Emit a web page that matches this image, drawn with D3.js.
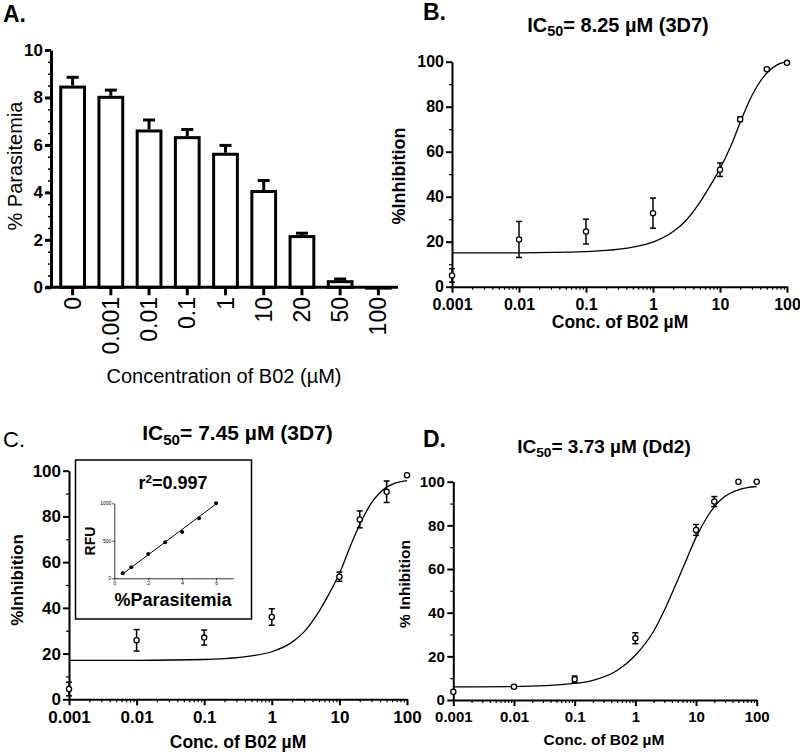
<!DOCTYPE html>
<html><head><meta charset="utf-8">
<script src="https://cdn.jsdelivr.net/npm/d3@7"></script>
<style>body{margin:0;background:#fff}svg{display:block}text{font-family:"Liberation Sans",Arial,sans-serif}</style>
</head><body><svg id="c" width="800" height="756"></svg>
<script>
// ---------- DATA ----------
// Panel A
const categoriesA = ["0","0.001","0.01","0.1","1","10","20","50","100"];
const parasitemiaA = [8.5, 8.07, 6.65, 6.37, 5.67, 4.1, 2.2, 0.3, 0.05];
const errorA = [0.35, 0.24, 0.4, 0.28, 0.31, 0.4, 0.08, 0.05, 0];
const yTicksA = [0, 2, 4, 6, 8, 10];

// Dose–response shared x ticks
const xTickValues = [0.001, 0.01, 0.1, 1, 10, 100];
const xTickLabels = ["0.001", "0.01", "0.1", "1", "10", "100"];
const yTicksInh = [0, 20, 40, 60, 80, 100];
const concentrations = [0.001, 0.01, 0.1, 1, 10, 20, 50, 100];

// Fitted-curve sample concentrations
const fitX = [0.001, 0.01, 0.1, 0.2, 0.5, 1, 2, 3, 5, 7, 10, 15, 20, 30, 50, 70, 100];

// Panel B
const inhibitionB = [5, 21, 24.5, 32.7, 52, 74.4, 96.7, 99.5];
const errorB = [3, 8, 5.5, 6.7, 3, 1, 0.5, 0.5];
const fitYB = [15, 15.05, 15.6, 16.1, 17.6, 19.8, 24.5, 29, 37.5, 44.5, 52.5, 63.5, 73, 85, 95, 98.5, 100];

// Panel C
const inhibitionC = [4.5, 25.8, 27, 36, 53.6, 78.7, 90.8, 98];
const errorC = [3, 4.7, 3.3, 3.6, 2, 3.7, 4.7, 0];
const fitYC = [17, 17.05, 17.4, 17.8, 19, 20.8, 25, 29.5, 38.5, 46, 55, 68, 76.5, 86, 92.8, 94.8, 95.7];

// Panel C inset
const insetParasitemia = [0.5, 1, 2, 3, 4, 5, 6];
const insetRFU = [67, 147, 324, 480, 617, 800, 1000];
const insetFitX = [0.5, 6];
const insetFitY = [60, 990];
const insetXTicks = [0, 2, 4, 6];
const insetYTicks = [0, 500, 1000];

// Panel D
const inhibitionD = [3.8, 6.1, 9.5, 28.3, 77.9, 90.9, 100, 100];
const errorD = [0, 0.5, 1.5, 2.5, 2.5, 2.3, 0, 0];
const fitYD = [6, 6.15, 7.6, 9, 13.5, 20.5, 31.5, 41, 55, 64.5, 74.5, 83.5, 88.5, 93.3, 96.3, 97.3, 97.8];

// ---------- DRAW ----------
const svg = d3.select("#c");
svg.append("rect").attr("width", 800).attr("height", 756).attr("fill", "#fff");
const FONT = '"Liberation Sans", Arial, sans-serif';

function styleAxis(sel, size, weight, sw) {
  sel.attr("font-family", FONT).attr("font-size", size).attr("font-weight", weight);
  sel.selectAll("text").attr("fill", "#000");
  sel.selectAll("line").attr("stroke", "#000").attr("stroke-width", sw);
  sel.selectAll(".domain").attr("stroke", "#000").attr("stroke-width", sw);
}

// ===== Panel A =====
(function () {
  const g = svg.append("g");
  const x = d3.scaleBand().domain(categoriesA).range([53.5, 397.5]).paddingInner(0.3).paddingOuter(0.15);
  const y = d3.scaleLinear().domain([0, 10]).range([287.3, 50]);
  const bw = x.bandwidth();

  categoriesA.forEach((c, i) => {
    if (errorA[i] <= 0) return;
    const cx = x(c) + bw / 2;
    g.append("line").attr("x1", cx).attr("x2", cx).attr("y1", y(parasitemiaA[i])).attr("y2", y(parasitemiaA[i] + errorA[i]))
      .attr("stroke", "#000").attr("stroke-width", 3);
    g.append("line").attr("x1", cx - 6).attr("x2", cx + 6).attr("y1", y(parasitemiaA[i] + errorA[i])).attr("y2", y(parasitemiaA[i] + errorA[i]))
      .attr("stroke", "#000").attr("stroke-width", 3);
  });
  g.selectAll("rect.bar").data(categoriesA).join("rect")
    .attr("x", c => x(c) + 1.5).attr("width", bw - 3)
    .attr("y", (c, i) => y(parasitemiaA[i]) + 1.5)
    .attr("height", (c, i) => Math.max(0.5, y(0) - y(parasitemiaA[i]) - 1.5))
    .attr("fill", "#fff").attr("stroke", "#000").attr("stroke-width", 3);

  const minors = d3.range(0, 10.01, 0.5).filter(v => !yTicksA.includes(v));
  g.append("g").attr("transform", "translate(51,0)")
    .call(d3.axisLeft(y).tickValues(minors).tickSize(3).tickFormat(""))
    .call(s => { s.select(".domain").remove(); styleAxis(s, 10, "normal", 1.5); });
  g.append("g").attr("transform", "translate(51,0)")
    .call(d3.axisLeft(y).tickValues(yTicksA).tickSize(6).tickSizeOuter(0).tickPadding(2))
    .call(s => styleAxis(s, 17, "bold", 3));
  g.append("line").attr("x1", 46).attr("x2", 398).attr("y1", y(0)).attr("y2", y(0)).attr("stroke", "#000").attr("stroke-width", 3);
  const xa = g.append("g").attr("transform", `translate(0,${y(0)})`)
    .call(d3.axisBottom(x).tickSize(8).tickSizeOuter(0).tickFormat(""));
  xa.select(".domain").remove();
  styleAxis(xa, 10, "normal", 3);
  categoriesA.forEach(c => {
    g.append("text").attr("transform", `translate(${x(c) + bw / 2},297) rotate(-90)`)
      .attr("text-anchor", "end").attr("dy", "0.35em").attr("font-size", 23).attr("font-family", FONT).text(c);
  });
  g.append("text").attr("x", 224).attr("y", 383).attr("text-anchor", "middle").attr("font-size", 20).attr("font-family", FONT)
    .text("Concentration of B02 (µM)");
  g.append("text").attr("transform", "translate(22,166) rotate(-90)").attr("text-anchor", "middle").attr("font-size", 20)
    .attr("font-family", FONT).text("% Parasitemia");
  g.append("text").attr("x", 3).attr("y", 22).attr("font-size", 23).attr("font-weight", "bold").attr("font-family", FONT).text("A.");
})();

// ===== Dose-response panels =====
function dosePanel(cfg) {
  const g = svg.append("g");
  const x = d3.scaleLog().domain([0.001, 100]).range(cfg.xr);
  const y = d3.scaleLinear().domain([0, 100]).range(cfg.yr);
  const x0 = cfg.xr[0], y0 = cfg.yr[0];

  const minorsX = x.ticks().filter(v => !xTickValues.some(m => Math.abs(m - v) / m < 1e-6));
  g.append("g").attr("transform", `translate(0,${y0})`)
    .call(d3.axisBottom(x).tickValues(minorsX).tickSize(3).tickFormat(""))
    .call(s => { s.select(".domain").remove(); styleAxis(s, 10, "normal", 1.2); });
  g.append("g").attr("transform", `translate(0,${y0})`)
    .call(d3.axisBottom(x).tickValues(xTickValues).tickFormat((d, i) => xTickLabels[i]).tickSize(6).tickSizeOuter(0).tickPadding(cfg.xpad))
    .call(s => styleAxis(s, cfg.tick, "bold", 2));
  const minorsY = [10, 30, 50, 70, 90];
  g.append("g").attr("transform", `translate(${x0},0)`)
    .call(d3.axisLeft(y).tickValues(minorsY).tickSize(3).tickFormat(""))
    .call(s => { s.select(".domain").remove(); styleAxis(s, 10, "normal", 1.2); });
  g.append("g").attr("transform", `translate(${x0},0)`)
    .call(d3.axisLeft(y).tickValues(yTicksInh).tickSize(6).tickSizeOuter(0).tickPadding(cfg.ypad))
    .call(s => styleAxis(s, cfg.tick, "bold", 2));

  const pts = fitX.map((v, i) => [v, cfg.fitY[i]]);
  g.append("path").datum(pts)
    .attr("d", d3.line().x(d => x(d[0])).y(d => y(d[1])).curve(d3.curveMonotoneX))
    .attr("fill", "none").attr("stroke", "#000").attr("stroke-width", 1.3);

  if (cfg.inset) cfg.inset(g);

  concentrations.forEach((c, i) => {
    const e = cfg.err[i]; if (e <= 0) return;
    const cx = x(c), v = cfg.vals[i];
    g.append("line").attr("x1", cx).attr("x2", cx).attr("y1", y(v - e)).attr("y2", y(v + e)).attr("stroke", "#000").attr("stroke-width", 1.5);
    [v - e, v + e].forEach(t => g.append("line").attr("x1", cx - 3).attr("x2", cx + 3).attr("y1", y(t)).attr("y2", y(t))
      .attr("stroke", "#000").attr("stroke-width", 1.5));
  });
  g.selectAll("circle.pt").data(concentrations).join("circle")
    .attr("cx", c => x(c)).attr("cy", (c, i) => y(cfg.vals[i])).attr("r", 2.6)
    .attr("fill", "#fff").attr("stroke", "#000").attr("stroke-width", 1.3);

  const t = g.append("text").attr("x", cfg.title[0]).attr("y", cfg.title[1]).attr("text-anchor", "middle")
    .attr("font-size", cfg.title[2]).attr("font-weight", "bold").attr("font-family", FONT);
  t.append("tspan").text("IC");
  t.append("tspan").text("50").attr("font-size", "0.72em").attr("dy", "0.3em");
  t.append("tspan").text(cfg.titleText).attr("dy", "-0.22em");
  g.append("text").attr("x", cfg.xlab[0]).attr("y", cfg.xlab[1]).attr("text-anchor", "middle").attr("font-size", cfg.xlab[2])
    .attr("font-weight", "bold").attr("font-family", FONT).text("Conc. of B02 µM");
  g.append("text").attr("transform", `translate(${cfg.ylab[0]},${cfg.ylab[1]}) rotate(-90)`).attr("text-anchor", "middle")
    .attr("dy", "0.35em").attr("font-size", cfg.ylab[2]).attr("font-weight", "bold").attr("font-family", FONT).text(cfg.ylabText);
  g.append("text").attr("x", cfg.letter[0]).attr("y", cfg.letter[1]).attr("font-size", cfg.letter[2])
    .attr("font-weight", cfg.letterWeight || "bold").attr("font-family", cfg.letterFont || FONT).text(cfg.letterText);
}

dosePanel({
  xr: [452, 787], yr: [286.7, 61.7], tick: 16, xpad: 6, ypad: 2,
  vals: inhibitionB, err: errorB, fitY: fitYB,
  title: [618, 32, 20], titleText: "= 8.25 µM (3D7)",
  xlab: [620, 328, 17.5], ylab: [399, 176, 18], ylabText: "%Inhibition",
  letter: [423, 20, 23], letterText: "B."
});

dosePanel({
  xr: [69, 407], yr: [699.3, 470.7], tick: 17, xpad: 6, ypad: 2,
  vals: inhibitionC, err: errorC, fitY: fitYC,
  title: [237.5, 440, 21], titleText: "= 7.45 µM (3D7)",
  xlab: [238, 748, 17.5], ylab: [17, 580, 17], ylabText: "%Inhibition",
  letter: [3, 447, 22], letterText: "C.", letterWeight: "normal", letterFont: '"Open Sans", sans-serif',
  inset: function (g) {
    g.append("rect").attr("x", 75.5).attr("y", 460).attr("width", 176).attr("height", 159)
      .attr("fill", "#fff").attr("stroke", "#000").attr("stroke-width", 1.5);
    const xi = d3.scaleLinear().domain([0, 7]).range([114.3, 233]);
    const yi = d3.scaleLinear().domain([0, 1000]).range([578.3, 503.3]);
    g.append("g").attr("transform", "translate(0,578.3)")
      .call(d3.axisBottom(xi).tickValues(insetXTicks).tickFormat(d3.format("d")).tickSize(2).tickSizeOuter(0).tickPadding(1))
      .call(s => styleAxis(s, 5, "normal", 0.8));
    g.append("g").attr("transform", "translate(114.3,0)")
      .call(d3.axisLeft(yi).tickValues(insetYTicks).tickFormat(d3.format("d")).tickSize(2).tickSizeOuter(0).tickPadding(1))
      .call(s => styleAxis(s, 5, "normal", 0.8));
    const fit = insetFitX.map((v, i) => [v, insetFitY[i]]);
    g.append("path").datum(fit).attr("d", d3.line().x(d => xi(d[0])).y(d => yi(d[1])))
      .attr("stroke", "#000").attr("stroke-width", 1).attr("fill", "none");
    g.selectAll("circle.ins").data(insetParasitemia).join("circle")
      .attr("cx", d => xi(d)).attr("cy", (d, i) => yi(insetRFU[i])).attr("r", 2).attr("fill", "#000");
    const r = g.append("text").attr("x", 173).attr("y", 489).attr("text-anchor", "middle").attr("font-size", 18)
      .attr("font-weight", "bold").attr("font-family", FONT);
    r.append("tspan").text("r");
    r.append("tspan").text("2").attr("font-size", "0.65em").attr("dy", "-0.55em");
    r.append("tspan").text("=0.997").attr("dy", "0.36em");
    g.append("text").attr("x", 173).attr("y", 606).attr("text-anchor", "middle").attr("font-size", 18)
      .attr("font-weight", "bold").attr("font-family", FONT).text("%Parasitemia");
    g.append("text").attr("transform", "translate(90,541) rotate(-90)").attr("text-anchor", "middle").attr("dy", "0.35em")
      .attr("font-size", 14).attr("font-weight", "bold").attr("font-family", FONT).text("RFU");
  }
});

dosePanel({
  xr: [453.3, 756.7], yr: [700, 481.7], tick: 15, xpad: 5.5, ypad: 2.5,
  vals: inhibitionD, err: errorD, fitY: fitYD,
  title: [604, 453, 19], titleText: "= 3.73 µM (Dd2)",
  xlab: [604, 745, 15.5], ylab: [405, 584, 15.5], ylabText: "% Inhibition",
  letter: [423, 447, 23], letterText: "D."
});
</script></body></html>
